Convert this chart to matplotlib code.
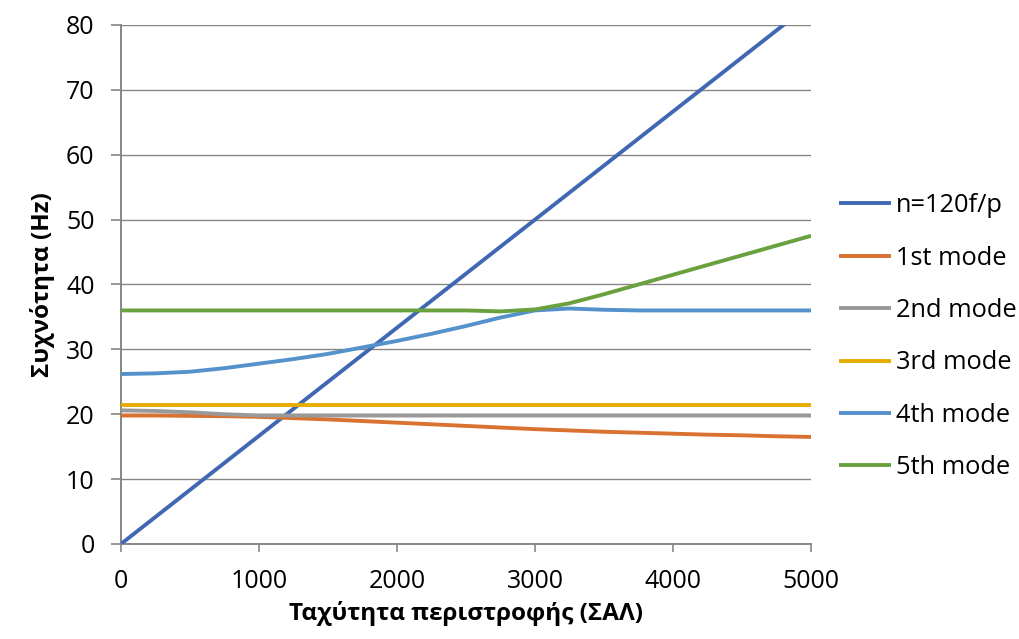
import matplotlib
matplotlib.use("Agg")
import matplotlib.pyplot as plt

plt.rcParams['font.family'] = ['Open Sans', 'DejaVu Sans']

# Rotational speed (rpm) and natural frequencies (Hz)
speed_sync = [0, 5000]
freq_sync = [0, 83.33]          # f = n*p/120 with p = 2

speed = [0, 250, 500, 750, 1000, 1250, 1500, 1750, 2000, 2250, 2500,
         2750, 3000, 3250, 3500, 3750, 4000, 4250, 4500, 4750, 5000]
mode1 = [19.8, 19.8, 19.75, 19.7, 19.6, 19.4, 19.2, 18.95, 18.7, 18.45, 18.2,
         17.95, 17.7, 17.5, 17.3, 17.15, 17.0, 16.85, 16.75, 16.6, 16.5]
mode2 = [20.6, 20.5, 20.3, 20.0, 19.8, 19.8, 19.8, 19.8, 19.8, 19.8, 19.8,
         19.8, 19.8, 19.8, 19.8, 19.8, 19.8, 19.8, 19.8, 19.8, 19.8]
mode3 = [21.5, 21.5, 21.5, 21.5, 21.5, 21.5, 21.5, 21.5, 21.5, 21.5, 21.5,
         21.5, 21.5, 21.5, 21.5, 21.5, 21.5, 21.5, 21.5, 21.5, 21.5]
mode4 = [26.2, 26.3, 26.55, 27.1, 27.8, 28.5, 29.3, 30.3, 31.3, 32.4, 33.6,
         34.9, 36.0, 36.3, 36.1, 36.0, 36.0, 36.0, 36.0, 36.0, 36.0]
mode5 = [36.0, 36.0, 36.0, 36.0, 36.0, 36.0, 36.0, 36.0, 36.0, 36.0, 36.0,
         35.85, 36.15, 37.1, 38.5, 40.0, 41.5, 43.0, 44.5, 46.0, 47.5]

series_names = ["n=120f/p", "1st mode", "2nd mode", "3rd mode", "4th mode", "5th mode"]
colors = ["#4068B2", "#D97230", "#999999", "#E6AC00", "#5592CB", "#6AA13F"]

x_ticks = [0, 1000, 2000, 3000, 4000, 5000]
y_ticks = [0, 10, 20, 30, 40, 50, 60, 70, 80]

fig = plt.figure(figsize=(10.19, 6.39), dpi=100)
ax = fig.add_axes([0.1187, 0.1487, 0.6772, 0.8122])

lw = 2.8
curves = [(speed_sync, freq_sync), (speed, mode1), (speed, mode2),
          (speed, mode3), (speed, mode4), (speed, mode5)]
handles = []
for (xs, ys), name, c in zip(curves, series_names, colors):
    h, = ax.plot(xs, ys, color=c, lw=lw, label=name, solid_capstyle='butt',
                 solid_joinstyle='round', zorder=3)
    handles.append(h)

ax.set_xlim(0, 5000)
ax.set_ylim(0, 80)
ax.set_xticks(x_ticks)
ax.set_yticks(y_ticks)

grid_c = "#868686"
ax.grid(axis='y', color=grid_c, lw=1.0, zorder=1)
ax.spines['top'].set_visible(False)
ax.spines['right'].set_visible(False)
ax.spines['left'].set_color(grid_c)
ax.spines['bottom'].set_color(grid_c)
ax.spines['left'].set_linewidth(1.4)
ax.spines['bottom'].set_linewidth(1.4)

ax.tick_params(axis='y', length=7, width=1.2, color=grid_c, pad=12, labelsize=18)
ax.tick_params(axis='x', length=6, width=1.2, color=grid_c, pad=12, labelsize=18)

ax.set_xlabel("Ταχύτητα περιστροφής (ΣΑΛ)", fontsize=17.5, fontweight='bold', labelpad=5)
ax.set_ylabel("Συχνότητα (Hz)", fontsize=17.5, fontweight='bold', labelpad=8)

fig.legend(handles=handles, loc='center left', bbox_to_anchor=(0.823, 0.473),
           frameon=False, fontsize=18.3, handlelength=2.05, handletextpad=0.2,
           labelspacing=1.08, borderpad=0, borderaxespad=0)

fig.savefig("out.png", dpi=100)
